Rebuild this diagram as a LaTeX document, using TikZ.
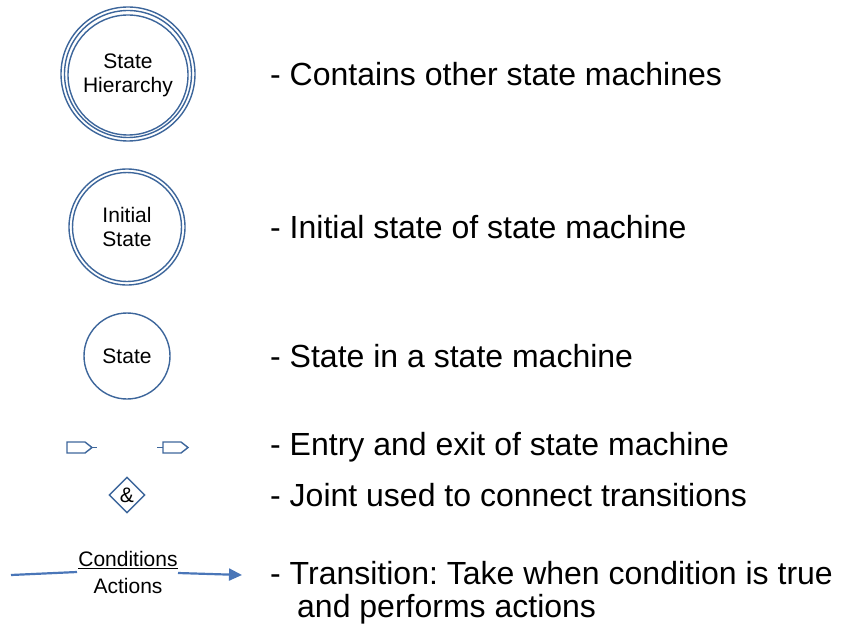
\documentclass[tikz,border=0pt]{standalone}
\usepackage{fontspec}
\setmainfont{Liberation Sans}
\usetikzlibrary{shapes.geometric,arrows.meta}
\definecolor{ring}{HTML}{3D669B}
\definecolor{arr}{HTML}{4A76B8}
\frenchspacing
\tikzset{
  ringline/.style={draw=ring, line width=1.4pt},
  desc/.style={anchor=west, inner sep=0pt, font=\fontsize{32}{36}\selectfont},
  small/.style={font=\fontsize{21}{24}\selectfont, align=center, inner sep=0pt},
}
\begin{document}
\begin{tikzpicture}[x=1pt,y=-1pt]
\useasboundingbox (0,0) rectangle (842,631);
% state hierarchy
\node[circle, ringline, minimum size=134pt, inner sep=0pt] (h1) at (128,74) {};
\node[circle, ringline, minimum size=127pt, inner sep=0pt] (h2) at (128,74) {};
\node[circle, ringline, minimum size=120pt, inner sep=0pt, small] (h3) at (128,75) {State\\Hierarchy};
% initial state
\node[circle, ringline, minimum size=116pt, inner sep=0pt] (i1) at (127,227) {};
\node[circle, ringline, minimum size=109pt, inner sep=0pt, small] (i2) at (127,227) {Initial\\State};
% state
\node[circle, ringline, minimum size=86pt, inner sep=0pt, small] (s) at (127,356) {State};
% entry / exit ports
\draw[ringline] (67,442) -- (85,442) -- (92,447.5) -- (85,453) -- (67,453) -- cycle;
\coordinate (en1) at (92,447.5); \coordinate (en2) at (97,447.5);
\draw[ring, line width=1.4pt] (en1) -- (en2);
\draw[ringline] (163,442) -- (181,442) -- (188,447.5) -- (181,453) -- (163,453) -- cycle;
\coordinate (ex1) at (157,447.5); \coordinate (ex2) at (163,447.5);
\draw[ring, line width=1.4pt] (ex1) -- (ex2);
% joint
\node[diamond, ringline, minimum size=36pt, inner sep=0pt, font=\fontsize{21}{24}\selectfont] (j) at (127,495) {\&};
% transition
\node[small] (cond) at (128,560) {\underline{Conditions}};
\node[small] (act) at (128,586) {Actions};
\coordinate (t0) at (11,575);
\coordinate (t1) at (77,572);
\coordinate (t2) at (178,573);
\coordinate (t3) at (242,575);
\draw[arr, line width=2.2pt] (t0) -- (t1);
\draw[arr, line width=2.2pt, -{Triangle[length=13pt,width=12pt]}] (t2) -- (t3);
% descriptions
\node[desc] (d1) at (270,74) {- Contains other state machines};
\node[desc] (d2) at (270,227) {- Initial state of state machine};
\node[desc] (d3) at (270,356) {- State in a state machine};
\node[desc] (d4) at (270,447) {- Entry and exit of state machine};
\node[desc] (d5) at (270,495) {- Joint used to connect transitions};
\node[desc] (d6) at (270,573) {- Transition: Take when condition is true};
\node[desc] (d7) at (297,609) {and performs actions};
\end{tikzpicture}
\end{document}
